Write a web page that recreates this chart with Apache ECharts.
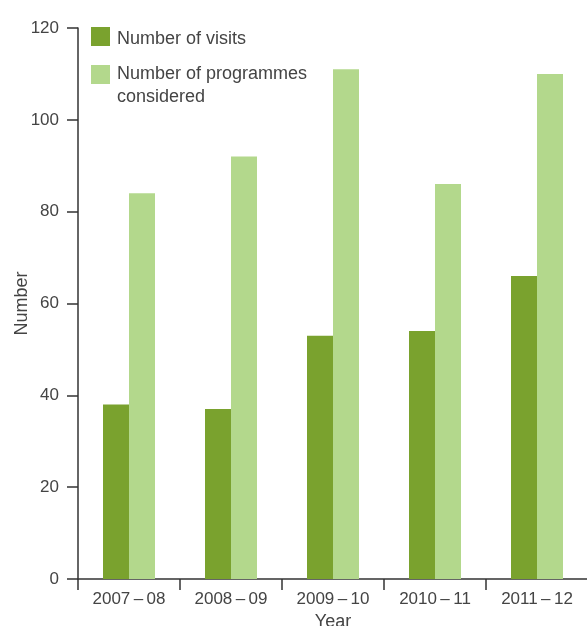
<!DOCTYPE html>
<html><head><meta charset="utf-8">
<script src="https://cdn.jsdelivr.net/npm/echarts@6/dist/echarts.min.js"></script>
<style>html,body{margin:0;padding:0;background:#fff}#c{width:587px;height:626px}</style>
</head><body><div id="c"></div>
<script>
const categories = ["2007\u2009–\u200908", "2008\u2009–\u200909", "2009\u2009–\u200910", "2010\u2009–\u200911", "2011\u2009–\u200912"];
const visits = [38, 37, 53, 54, 66];
const programmes = [84, 92, 111, 86, 110];
const yTicks = [0, 20, 40, 60, 80, 100, 120];
const seriesNames = ["Number of visits", "Number of programmes considered"];

const chart = echarts.init(document.getElementById('c'), null, {renderer: 'canvas'});
const font = "'Liberation Sans', Arial, sans-serif";
const axisColor = '#333';
const textColor = '#444';
chart.setOption({
  animation: false,
  textStyle: {fontFamily: font},
  grid: {left: 78, right: -1, top: 28, bottom: 47, containLabel: false, outerBoundsMode: 'none'},
  legend: [
    {data: [seriesNames[0]], orient: 'vertical', left: 91, top: 23, padding: 0, itemWidth: 19, itemHeight: 19,
     icon: 'rect', formatter: (n) => '{s| }\n{t|' + n + '}',
     textStyle: {fontSize: 18, color: textColor, fontFamily: font, padding: [0, 0, 0, 2],
       rich: {s: {lineHeight: 5, fontSize: 4}, t: {lineHeight: 23, fontSize: 18, color: textColor, fontFamily: font}}}},
    {data: [seriesNames[1]], orient: 'vertical', left: 91, top: 36, padding: 0, itemWidth: 19, itemHeight: 19,
     icon: 'rect', formatter: () => ' \nNumber of programmes\nconsidered',
     textStyle: {fontSize: 18, color: textColor, fontFamily: font, lineHeight: 23, padding: [8, 0, 0, 2]}}
  ],
  xAxis: {
    type: 'category', data: categories,
    name: 'Year', nameLocation: 'middle', nameGap: 31,
    nameTextStyle: {fontSize: 18, color: textColor},
    axisLine: {lineStyle: {color: axisColor, width: 1.5}},
    axisTick: {show: true, length: 11, alignWithLabel: false, lineStyle: {color: axisColor, width: 1.5}},
    axisLabel: {fontSize: 17, color: textColor, margin: 12}
  },
  yAxis: {
    type: 'value', min: yTicks[0], max: yTicks[yTicks.length - 1], interval: 20,
    name: 'Number', nameLocation: 'middle', nameGap: 47, nameMoveOverlap: false,
    nameTextStyle: {fontSize: 18, color: textColor},
    axisLine: {show: true, lineStyle: {color: axisColor, width: 1.5}},
    axisTick: {show: true, length: 11, lineStyle: {color: axisColor, width: 1.5}},
    axisLabel: {fontSize: 17, color: textColor, margin: 19},
    splitLine: {show: false}
  },
  series: [
    {name: seriesNames[0], type: 'bar', data: visits, barWidth: 26, barGap: '0%',
     itemStyle: {color: '#7aa22e'}},
    {name: seriesNames[1], type: 'bar', data: programmes, barWidth: 26, barGap: '0%',
     itemStyle: {color: '#b3d88c'}}
  ]
});
</script></body></html>
